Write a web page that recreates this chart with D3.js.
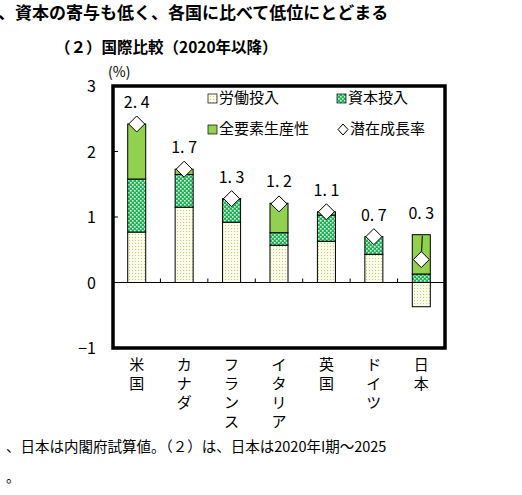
<!DOCTYPE html><html><head><meta charset="utf-8"><script src="https://cdn.jsdelivr.net/npm/d3@7"></script>
<style>body{margin:0;background:#fff}text{font-family:"Noto Sans CJK JP",serif}</style></head><body>
<svg id="c" width="522" height="495"></svg>
<script>
const categories=["米国","カナダ","フランス","イタリア","英国","ドイツ","日本"];
const labor=[0.77,1.15,0.92,0.57,0.63,0.43,-0.37];
const capital=[0.81,0.50,0.36,0.19,0.40,0.27,0.13];
const tfp=[0.84,0.08,-0.01,0.45,0.05,0.0,0.60];
const potential=[2.42,1.73,1.28,1.20,1.08,0.70,0.35];
const labels=["2.4","1.7","1.3","1.2","1.1","0.7","0.3"];
const yTicks=[-1,0,1,2,3];
const svg=d3.select("#c");
const defs=svg.append("defs");
let p=defs.append("pattern").attr("id","lab").attr("width",3).attr("height",3).attr("patternUnits","userSpaceOnUse");
p.append("rect").attr("width",3).attr("height",3).attr("fill","#fbfbe8");
p.append("rect").attr("width",1).attr("height",1).attr("fill","#b8cf8a");
p=defs.append("pattern").attr("id","cap").attr("width",4).attr("height",4).attr("patternUnits","userSpaceOnUse");
p.append("rect").attr("width",4).attr("height",4).attr("fill","#1fb45a");
p.append("rect").attr("x",0).attr("y",0).attr("width",1.6).attr("height",1.6).attr("fill","#d8f5d8");
p.append("rect").attr("x",2).attr("y",2).attr("width",1.6).attr("height",1.6).attr("fill","#d8f5d8");
const L=113,R=445,T=86,B=348;
const y=d3.scaleLinear().domain([-1,3]).range([B,T]);
const x=d3.scaleBand().domain(categories).range([L,R]).paddingInner(0.62).paddingOuter(0.31);
svg.append("text").attr("x",-2).attr("y",19).attr("font-size",17).attr("font-weight","bold").text("、資本の寄与も低く、各国に比べて低位にとどまる");
svg.append("text").attr("x",55).attr("y",53).attr("font-size",15.5).attr("font-weight","bold").text("（２）国際比較（2020年以降）");
svg.append("text").attr("x",108).attr("y",77).attr("font-size",14).attr("font-family","serif").text("(%)");
svg.append("text").attr("x",6).attr("y",452).attr("font-size",14.5).attr("font-family","serif").text("、日本は内閣府試算値。（２）は、日本は2020年I期～2025");
svg.append("text").attr("x",6).attr("y",482).attr("font-size",14).text("。");
yTicks.forEach(t=>svg.append("text").attr("x",96).attr("y",y(t)+6).attr("text-anchor","end").attr("font-size",16).attr("font-family","serif").text(t==-1?"−1":t));
const g=svg.append("g");
categories.forEach((c,i)=>{
  const bx=x(c),bw=x.bandwidth();
  const segs=[];
  let top;
  if(labor[i]<0){segs.push([labor[i],0,"url(#lab)"]);segs.push([0,capital[i],"url(#cap)"]);segs.push([capital[i],capital[i]+tfp[i],"#92d050"]);top=capital[i]+tfp[i];}
  else{segs.push([0,labor[i],"url(#lab)"]);segs.push([labor[i],labor[i]+capital[i],"url(#cap)"]);segs.push([labor[i]+capital[i],labor[i]+capital[i]+tfp[i],"#92d050"]);top=labor[i]+capital[i]+tfp[i];}
  segs.forEach(s=>{const a=Math.min(s[0],s[1]),b=Math.max(s[0],s[1]);if(b-a<0.005)return;
    g.append("rect").attr("x",bx).attr("y",y(b)).attr("width",bw).attr("height",y(a)-y(b)).attr("fill",s[2]).attr("stroke","#000").attr("stroke-width",1);});
  const cx=bx+bw/2,cy=y(potential[i]);
  if(i==6) g.append("line").attr("x1",cx+1).attr("x2",cx).attr("y1",y(top)+1).attr("y2",cy).attr("stroke","#000");
  g.append("path").attr("d",`M${cx},${cy-8}L${cx+8},${cy}L${cx},${cy+8}L${cx-8},${cy}Z`).attr("fill","#fff").attr("stroke","#000").attr("stroke-width",1);
  svg.append("text").attr("x",cx).attr("y",y(Math.max(potential[i],top))-16).attr("text-anchor","middle").attr("font-size",16).attr("font-family","serif").text(labels[i].replace(".",". "));
  [...c].forEach((ch,k)=>svg.append("text").attr("x",cx).attr("y",370+k*19).attr("text-anchor","middle").attr("font-size",15).attr("font-family","serif").text(ch));
});
svg.append("line").attr("x1",L).attr("x2",R).attr("y1",y(0)).attr("y2",y(0)).attr("stroke","#000");
categories.slice(1).forEach(c=>{const tx=x(c)-(x.step()-x.bandwidth())/2;
  svg.append("line").attr("x1",tx).attr("x2",tx).attr("y1",y(0)).attr("y2",y(0)-4).attr("stroke","#000");});
[1,2].forEach(t=>svg.append("line").attr("x1",L).attr("x2",L+5).attr("y1",y(t)).attr("y2",y(t)).attr("stroke","#000"));
svg.append("rect").attr("x",L).attr("y",T).attr("width",R-L).attr("height",B-T).attr("fill","none").attr("stroke","#000").attr("stroke-width",3.5);
const lg=[["労働投入","url(#lab)",208,103],["資本投入","url(#cap)",337,103],["全要素生産性","#92d050",208,134]];
lg.forEach(d=>{svg.append("rect").attr("x",d[2]).attr("y",d[3]-9).attr("width",9).attr("height",9).attr("fill",d[1]).attr("stroke","#000").attr("stroke-width",0.7);
  svg.append("text").attr("x",d[2]+11).attr("y",d[3]).attr("font-size",15).attr("font-family","serif").text(d[0]);});
svg.append("path").attr("d","M343,124L348,129.5L343,135L338,129.5Z").attr("fill","#fff").attr("stroke","#000");
svg.append("text").attr("x",350).attr("y",134).attr("font-size",15).attr("font-family","serif").text("潜在成長率");
</script></body></html>
